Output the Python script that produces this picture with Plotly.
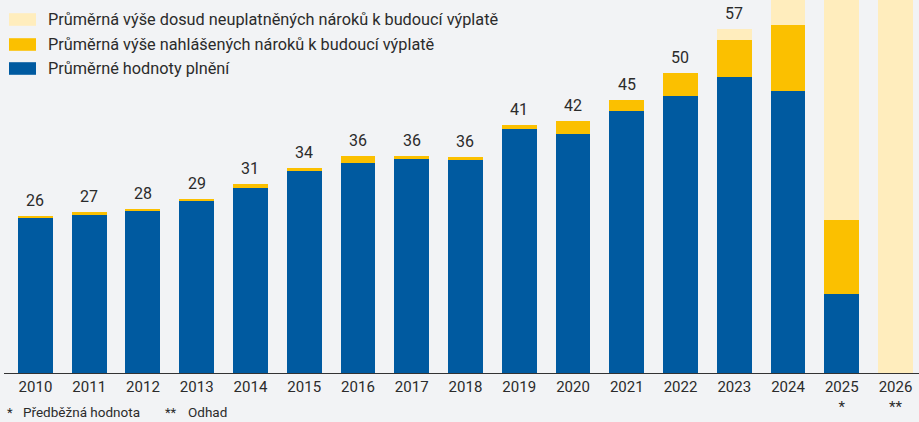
import plotly.graph_objects as go

years = ["2010", "2011", "2012", "2013", "2014", "2015", "2016", "2017", "2018",
         "2019", "2020", "2021", "2022", "2023", "2024", "2025", "2026"]
tick_labels = ["2010", "2011", "2012", "2013", "2014", "2015", "2016", "2017", "2018",
               "2019", "2020", "2021", "2022", "2023", "2024", "2025<br>*", "2026<br>**"]
plneni = [25.6, 26.3, 26.9, 28.5, 30.7, 33.5, 34.8, 35.5, 35.3,
          40.4, 39.6, 43.4, 45.9, 49.1, 46.7, 13.1, 0]
nahlasene = [0.4, 0.3, 0.3, 0.4, 0.6, 0.4, 1.2, 0.5, 0.5,
             0.7, 2.2, 1.9, 3.8, 6.1, 11.0, 12.3, 0]
neuplatnene = [0, 0, 0, 0, 0, 0, 0, 0, 0,
               0, 0, 0, 0, 1.8, 4.3, 40.0, 75.0]
total_labels = ["26", "27", "28", "29", "31", "34", "36", "36", "36",
                "41", "42", "45", "50", "57", "", "", ""]

series_names = ["Průměrná výše dosud neuplatněných nároků k budoucí výplatě",
                "Průměrná výše nahlášených nároků k budoucí výplatě",
                "Průměrné hodnoty plnění"]
footnote_marks = ["*", "**"]
footnote_texts = ["Předběžná hodnota", "Odhad"]

BLUE = "#005aa0"
YELLOW = "#fbc000"
LIGHT = "#ffedbd"
BG = "#f2f3f5"
TEXT = "#2b2b2b"
FONT = "Roboto"

x = list(range(len(years)))

fig = go.Figure()
fig.add_trace(go.Bar(x=x, y=plneni, name=series_names[2], marker_color=BLUE,
                     marker_line_width=0, width=0.65))
fig.add_trace(go.Bar(x=x, y=nahlasene, name=series_names[1], marker_color=YELLOW,
                     marker_line_width=0, width=0.65))
fig.add_trace(go.Bar(x=x, y=neuplatnene, name=series_names[0], marker_color=LIGHT,
                     marker_line_width=0, width=0.65))

totals = [a + b + c for a, b, c in zip(plneni, nahlasene, neuplatnene)]
for xi, t, lab in zip(x, totals, total_labels):
    if lab:
        fig.add_annotation(x=xi, y=t, text=lab, showarrow=False, xref="x", yref="y",
                           yanchor="bottom", yshift=4,
                           font=dict(family=FONT, size=16, color=TEXT))

# plot area pixel geometry helpers
L, W, PH = 4, 915, 373.0


def px(xp):
    return (xp - L) / W


def py(yp):
    return (PH - yp) / PH


# manual legend
legend_colors = [LIGHT, YELLOW, BLUE]
row_centers = [19.5, 44.5, 68.5]
for name, col, yc in zip(series_names, legend_colors, row_centers):
    fig.add_shape(type="rect", xref="paper", yref="paper",
                  x0=px(9), x1=px(36), y0=py(yc + 6.3), y1=py(yc - 6.3),
                  fillcolor=col, line_width=0, layer="above")
    fig.add_annotation(x=px(46), y=py(yc), xref="paper", yref="paper", text=name,
                       showarrow=False, xanchor="left", yanchor="middle",
                       font=dict(family=FONT, size=16.3, color=TEXT))

# footnotes
for mark, txt, mx, tx in zip(footnote_marks, footnote_texts, [5, 163], [21, 186]):
    fig.add_annotation(x=px(mx), y=py(412), xref="paper", yref="paper", text=mark,
                       showarrow=False, xanchor="left", yanchor="middle",
                       font=dict(family=FONT, size=13, color=TEXT))
    fig.add_annotation(x=px(tx), y=py(412), xref="paper", yref="paper", text=txt,
                       showarrow=False, xanchor="left", yanchor="middle",
                       font=dict(family=FONT, size=13.5, color=TEXT))

fig.update_layout(
    width=919, height=422,
    margin=dict(l=4, r=0, t=0, b=49),
    barmode="stack",
    bargap=0.35,
    showlegend=False,
    paper_bgcolor=BG, plot_bgcolor=BG,
    font=dict(family=FONT, color=TEXT),
    xaxis=dict(range=[-0.585, 16.437], tickmode="array", tickvals=x, ticktext=tick_labels,
               showline=True, linecolor="#333333", linewidth=1.2, showgrid=False,
               zeroline=False, ticks="", tickfont=dict(family=FONT, size=15, color=TEXT),
               fixedrange=True),
    yaxis=dict(range=[0, 61.8], visible=False, showgrid=False, zeroline=False,
               fixedrange=True),
)

fig.write_html("out.html", config={"displayModeBar": False},
               post_script="document.body.style.margin='0';document.body.style.overflow='hidden';document.body.style.background='" + BG + "';")
